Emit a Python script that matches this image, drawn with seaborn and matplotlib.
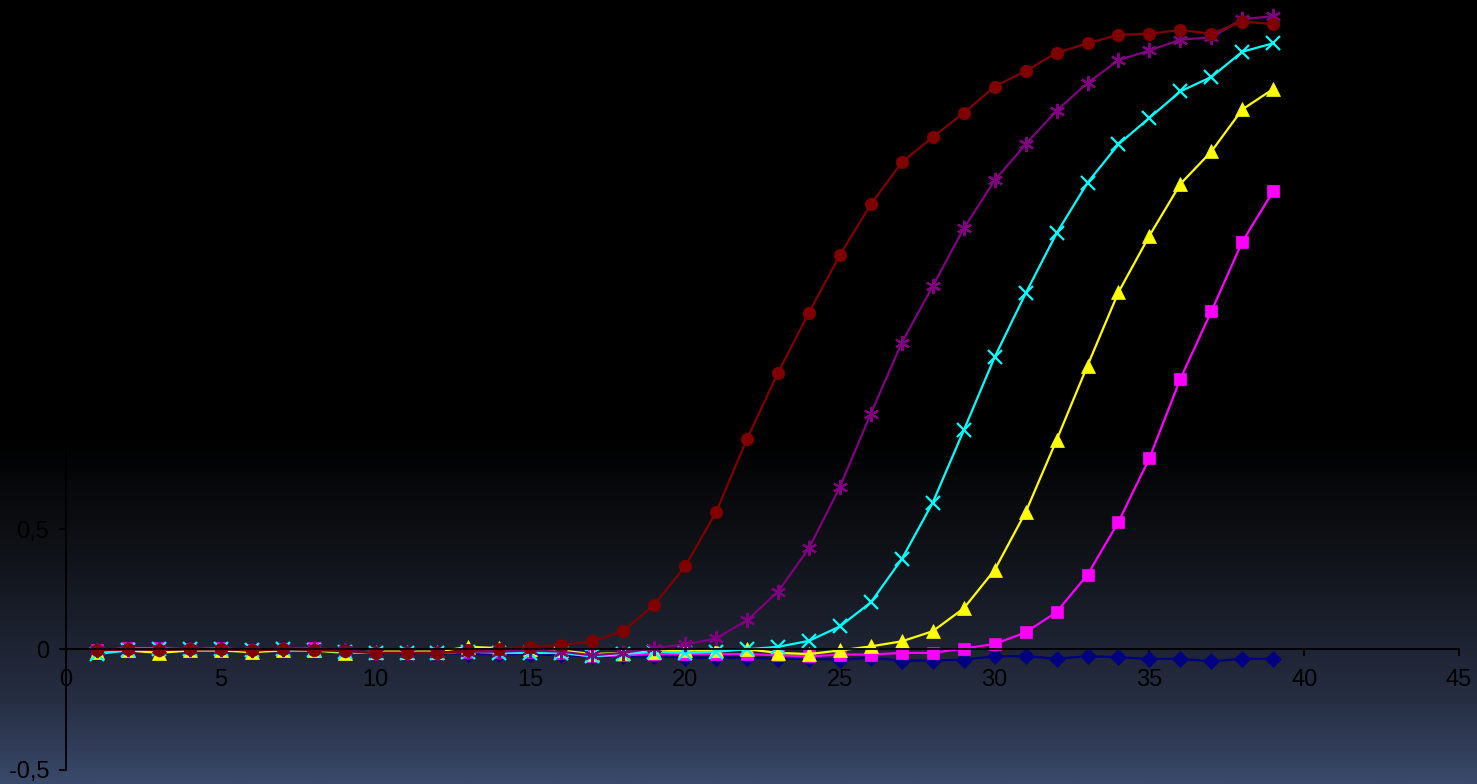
import numpy as np
import pandas as pd
import matplotlib
matplotlib.use("Agg")
import matplotlib.pyplot as plt
from matplotlib.colors import LinearSegmentedColormap
import seaborn as sns

# Amplification curves: fluorescence per cycle for six samples
cycles = list(range(1, 40))

sample_1 = [-0.01, 0.0, 0.0, 0.0, 0.0, -0.005, 0.0, -0.005, -0.01, -0.015,
            -0.015, -0.015, -0.02, -0.02, -0.02, -0.025, -0.03, -0.03, -0.03, -0.035,
            -0.035, -0.035, -0.04, -0.04, -0.043, -0.036, -0.047, -0.047, -0.043, -0.029,
            -0.029, -0.039, -0.029, -0.033, -0.04, -0.04, -0.05, -0.04, -0.04]

sample_2 = [-0.005, 0.005, 0.005, 0.0, 0.005, -0.005, 0.0, 0.005, -0.01, -0.015,
            -0.015, -0.015, -0.01, -0.01, -0.01, -0.015, -0.03, -0.025, -0.02, -0.02,
            -0.02, -0.02, -0.025, -0.03, -0.022, -0.022, -0.015, -0.015, 0.003, 0.022,
            0.07, 0.155, 0.31, 0.53, 0.795, 1.125, 1.405, 1.695, 1.905]

sample_3 = [-0.01, -0.005, -0.015, -0.005, -0.005, -0.012, -0.005, -0.005, -0.015, -0.01,
            -0.01, -0.01, 0.01, 0.005, 0.0, -0.005, -0.02, -0.015, -0.01, -0.005,
            -0.005, 0.0, -0.015, -0.02, -0.005, 0.012, 0.033, 0.075, 0.17, 0.33,
            0.57, 0.87, 1.18, 1.485, 1.72, 1.935, 2.07, 2.245, 2.33]

sample_4 = [-0.02, -0.005, 0.0, 0.0, 0.0, -0.005, 0.0, -0.005, -0.01, -0.015,
            -0.015, -0.015, -0.01, -0.015, -0.015, -0.015, -0.03, -0.02, -0.01, -0.015,
            -0.01, 0.0, 0.01, 0.035, 0.095, 0.195, 0.375, 0.61, 0.91, 1.215,
            1.48, 1.73, 1.94, 2.10, 2.21, 2.32, 2.38, 2.485, 2.52]

sample_5 = [-0.005, 0.0, 0.0, 0.0, 0.0, -0.005, 0.0, 0.005, -0.005, -0.015,
            -0.015, -0.015, -0.01, -0.01, -0.005, -0.01, -0.025, -0.015, 0.005, 0.02,
            0.045, 0.12, 0.24, 0.42, 0.675, 0.98, 1.275, 1.51, 1.75, 1.95,
            2.10, 2.24, 2.355, 2.45, 2.49, 2.535, 2.545, 2.62, 2.633]

sample_6 = [-0.005, 0.0, -0.003, 0.0, 0.0, -0.005, 0.0, -0.003, -0.008, -0.015,
            -0.015, -0.015, -0.005, 0.003, 0.01, 0.017, 0.033, 0.075, 0.185, 0.345,
            0.57, 0.875, 1.15, 1.40, 1.64, 1.85, 2.025, 2.13, 2.23, 2.34,
            2.405, 2.48, 2.52, 2.555, 2.56, 2.575, 2.56, 2.61, 2.60]

series_names = ["1", "2", "3", "4", "5", "6"]
series_values = [sample_1, sample_2, sample_3, sample_4, sample_5, sample_6]

x_ticks = [0, 5, 10, 15, 20, 25, 30, 35, 40, 45]
y_ticks = [-0.5, 0.0, 0.5, 1.0, 1.5, 2.0, 2.5]

colors = ["#000080", "#FF00FF", "#FFFF00", "#00FFFF", "#800080", "#800000"]
markers = ["D", "s", "^", "x", (6, 2, 0), "o"]
marker_sizes = [8, 8, 10, 10, 11, 9]

W, H = 1477, 784
fig = plt.figure(figsize=(W / 100, H / 100), dpi=100)
fig.patch.set_facecolor("black")

# Background: black on top, fading into slate blue towards the bottom
bg = fig.add_axes([0, 0, 1, 1], zorder=-10)
bg.axis("off")
stops = [(0.0, "#000000"), (435 / H, "#000000"),
         (550 / H, "#0f1217"), (648 / H, "#1f2434"), (700 / H, "#262e42"),
         (1.0, "#3a4a6b")]
cmap = LinearSegmentedColormap.from_list("bg", stops, N=1024)
grad = np.linspace(0, 1, H).reshape(-1, 1)
bg.imshow(grad, aspect="auto", cmap=cmap, extent=[0, 1, 1, 0], interpolation="bilinear")
bg.set_xlim(0, 1)
bg.set_ylim(1, 0)

ax = fig.add_axes([66 / W, 14.5 / H, 1393 / W, 769.5 / H])
ax.set_facecolor("none")

long_df = pd.concat(
    [pd.DataFrame({"cycle": cycles, "value": vals, "sample": name})
     for name, vals in zip(series_names, series_values)],
    ignore_index=True,
)

for name, color, mk, ms in zip(series_names, colors, markers, marker_sizes):
    sub = long_df[long_df["sample"] == name]
    filled = mk != "x" and not isinstance(mk, tuple)
    sns.lineplot(
        data=sub, x="cycle", y="value", ax=ax, color=color,
        marker=mk, markersize=ms, linewidth=1.6,
        markeredgecolor=color, markerfacecolor=color if filled else "none",
        markeredgewidth=1.6 if not filled else 0.5,
        estimator=None, sort=False, legend=False,
    )

ax.set_xlim(0, 45)
ax.set_ylim(-0.5, 2.7)
ax.set_xticks(x_ticks)
ax.set_yticks(y_ticks)
ax.set_xticklabels([str(t) for t in x_ticks])
ax.set_yticklabels([f"{t:g}".replace(".", ",") for t in y_ticks])
ax.set_xlabel("")
ax.set_ylabel("")

for side in ("top", "right"):
    ax.spines[side].set_visible(False)
ax.spines["bottom"].set_position(("data", 0))
for side in ("left", "bottom"):
    ax.spines[side].set_color("#000000")
    ax.spines[side].set_linewidth(1.3)

ax.tick_params(axis="x", direction="out", length=5, width=1.3, color="#000000",
               labelsize=17, labelcolor="#000000", pad=9)
ax.tick_params(axis="y", direction="out", length=5, width=1.3, color="#000000",
               labelsize=17, labelcolor="#000000", pad=7)
for lab in ax.get_xticklabels() + ax.get_yticklabels():
    lab.set_fontfamily(["Liberation Sans", "DejaVu Sans"])

fig.savefig("out.png", dpi=100, facecolor=fig.get_facecolor())
